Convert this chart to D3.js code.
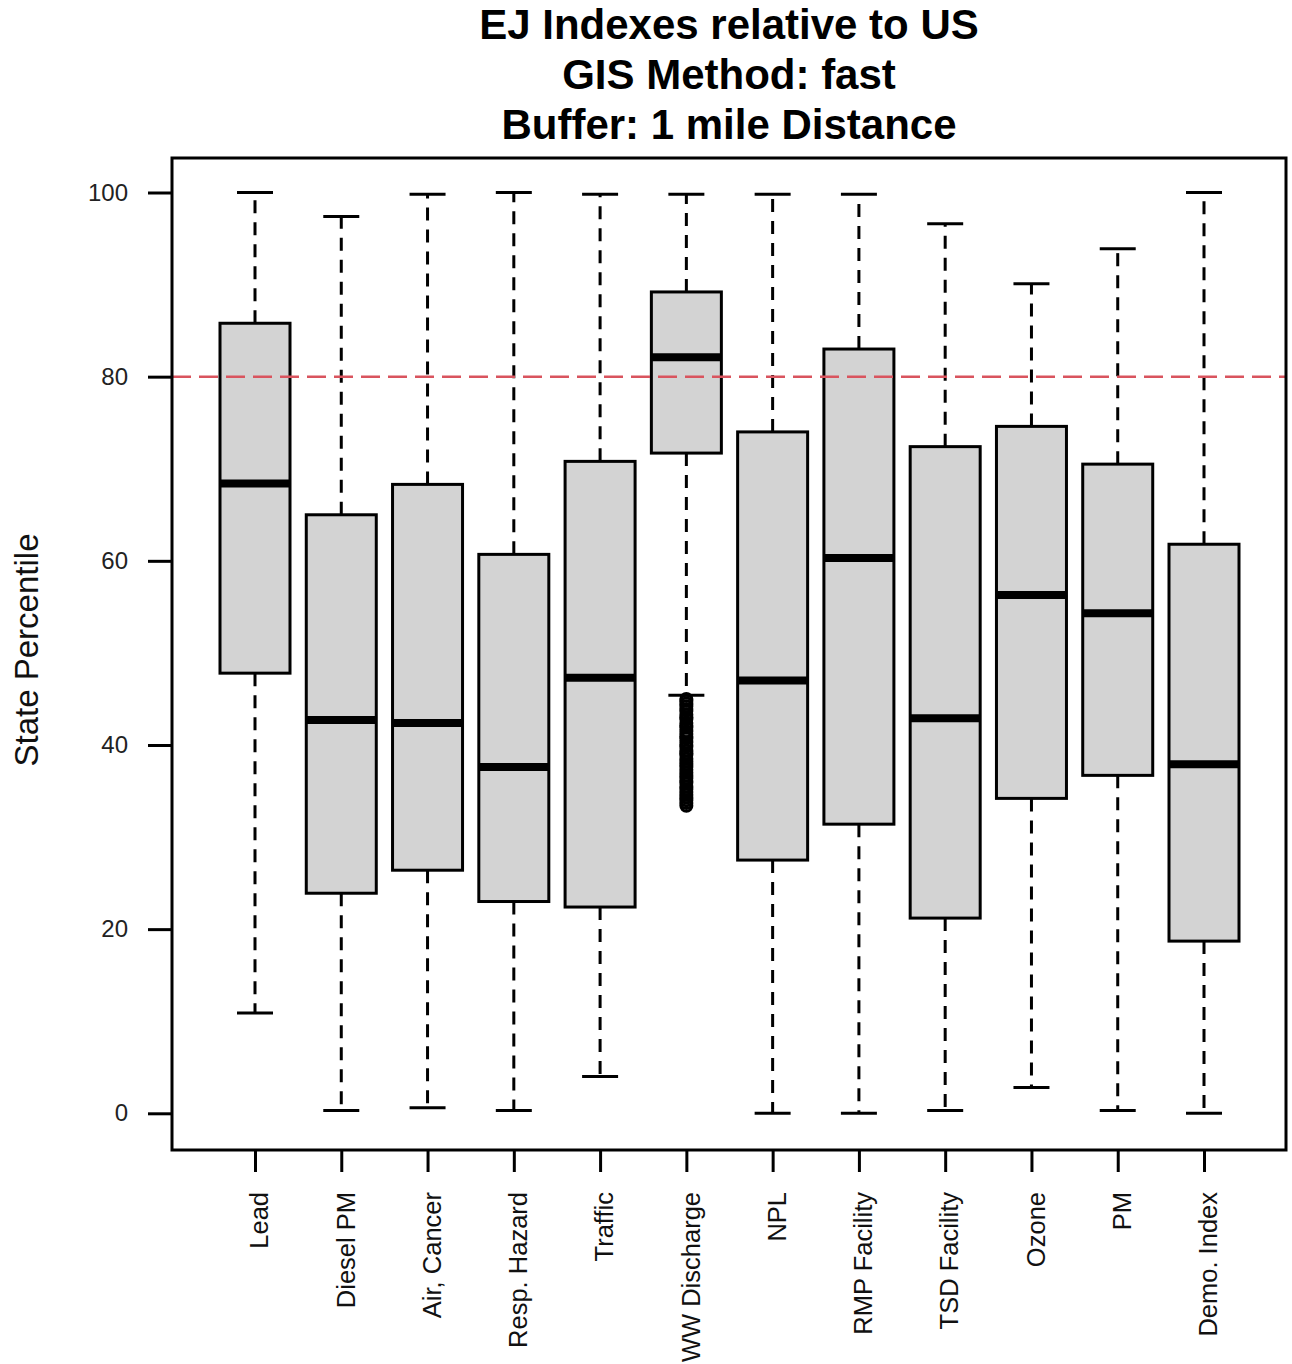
<!DOCTYPE html>
<html>
<head>
<meta charset="utf-8">
<script src="https://cdn.jsdelivr.net/npm/d3@7"></script>
<style>
  html, body { margin: 0; padding: 0; background: #fff; }
  svg { display: block; font-family: "Liberation Sans", Arial, sans-serif; }
</style>
</head>
<body>
<svg id="chart" width="1292" height="1364"></svg>
<script>
// ---- data ----
const titleLines = ["EJ Indexes relative to US", "GIS Method: fast", "Buffer: 1 mile Distance"];
const yLabel = "State Percentile";
const categories = ["Lead", "Diesel PM", "Air, Cancer", "Resp. Hazard", "Traffic", "WW Discharge",
                    "NPL", "RMP Facility", "TSD Facility", "Ozone", "PM", "Demo. Index"];
const whiskerLow  = [10.9, 0.3, 0.6, 0.3, 4.0, 45.4, 0.0, 0.0, 0.3, 2.8, 0.3, 0.0];
const q1          = [47.8, 23.9, 26.4, 23.0, 22.4, 71.7, 27.5, 31.4, 21.2, 34.2, 36.7, 18.7];
const medians     = [68.4, 42.7, 42.4, 37.6, 47.3, 82.1, 47.0, 60.3, 42.9, 56.3, 54.3, 37.9];
const q3          = [85.8, 65.0, 68.3, 60.7, 70.8, 89.2, 74.0, 83.0, 72.4, 74.6, 70.5, 61.8];
const whiskerHigh = [100.0, 97.4, 99.8, 100.0, 99.8, 99.8, 99.8, 99.8, 96.6, 90.1, 93.9, 100.0];
// outliers of WW Discharge (dense open circles forming a thick bar)
const wwOutliers = [45.0, 44.8, 44.5, 44.2, 43.9, 43.7, 43.3, 43.0, 42.8, 42.4, 42.1, 41.9, 41.5,
                    41.2, 40.9, 40.7, 40.3, 40.0, 39.8, 39.4, 39.1, 38.9, 38.5, 38.2, 37.9, 37.6,
                    37.3, 37.0, 36.7, 36.4, 36.1, 35.9, 35.5, 35.2, 34.9, 34.6, 34.3, 34.0, 33.7, 33.4];
const outlierCategory = "WW Discharge";
const yTicks = [0, 20, 40, 60, 80, 100];
const refLine = 80;

// ---- layout ----
const svg = d3.select("#chart");
const plot = { left: 172, right: 1286, top: 158, bottom: 1150 };

const y = d3.scaleLinear().domain([0, 100]).range([1113.3, 192.5]);
const x = d3.scalePoint().domain(categories).range([255, 1204]).padding(0);
const boxW = 70, capW = 36;

// title
svg.append("g").selectAll("text").data(titleLines).join("text")
  .attr("x", 729).attr("y", (d, i) => 39 + i * 50)
  .attr("text-anchor", "middle")
  .attr("font-size", 42).attr("font-weight", "bold").attr("fill", "#000")
  .text(d => d);

// boxes
const boxes = categories.map((c, i) => ({
  c, lo: whiskerLow[i], q1: q1[i], med: medians[i], q3: q3[i], hi: whiskerHigh[i]
}));

const g = svg.append("g");

// whiskers (dashed)
g.selectAll("line.wup").data(boxes).join("line").attr("class", "wup")
  .attr("x1", d => x(d.c)).attr("x2", d => x(d.c))
  .attr("y1", d => y(d.q3)).attr("y2", d => y(d.hi))
  .attr("stroke", "#000").attr("stroke-width", 3).attr("stroke-dasharray", "13,9");
g.selectAll("line.wlo").data(boxes).join("line").attr("class", "wlo")
  .attr("x1", d => x(d.c)).attr("x2", d => x(d.c))
  .attr("y1", d => y(d.q1)).attr("y2", d => y(d.lo))
  .attr("stroke", "#000").attr("stroke-width", 3).attr("stroke-dasharray", "13,9");
// caps
g.selectAll("line.chi").data(boxes).join("line").attr("class", "chi")
  .attr("x1", d => x(d.c) - capW / 2).attr("x2", d => x(d.c) + capW / 2)
  .attr("y1", d => y(d.hi)).attr("y2", d => y(d.hi))
  .attr("stroke", "#000").attr("stroke-width", 3);
g.selectAll("line.clo").data(boxes).join("line").attr("class", "clo")
  .attr("x1", d => x(d.c) - capW / 2).attr("x2", d => x(d.c) + capW / 2)
  .attr("y1", d => y(d.lo)).attr("y2", d => y(d.lo))
  .attr("stroke", "#000").attr("stroke-width", 3);
// box
g.selectAll("rect.box").data(boxes).join("rect").attr("class", "box")
  .attr("x", d => x(d.c) - boxW / 2).attr("width", boxW)
  .attr("y", d => y(d.q3)).attr("height", d => y(d.q1) - y(d.q3))
  .attr("fill", "#d3d3d3").attr("stroke", "#000").attr("stroke-width", 3);
// median
g.selectAll("line.med").data(boxes).join("line").attr("class", "med")
  .attr("x1", d => x(d.c) - boxW / 2).attr("x2", d => x(d.c) + boxW / 2)
  .attr("y1", d => y(d.med)).attr("y2", d => y(d.med))
  .attr("stroke", "#000").attr("stroke-width", 8);

// outliers
g.selectAll("circle.out").data(wwOutliers).join("circle").attr("class", "out")
  .attr("cx", x(outlierCategory)).attr("cy", d => y(d)).attr("r", 5.5)
  .attr("fill", "none").attr("stroke", "#000").attr("stroke-width", 3);

// reference line at 80
svg.append("line")
  .attr("x1", plot.left).attr("x2", plot.right)
  .attr("y1", y(refLine)).attr("y2", y(refLine))
  .attr("stroke", "#d9545e").attr("stroke-width", 2.5).attr("stroke-dasharray", "19,8");

// frame
svg.append("rect")
  .attr("x", plot.left).attr("y", plot.top)
  .attr("width", plot.right - plot.left).attr("height", plot.bottom - plot.top)
  .attr("fill", "none").attr("stroke", "#000").attr("stroke-width", 3);

// y axis
const yAxis = svg.append("g").attr("transform", `translate(${plot.left},0)`)
  .call(d3.axisLeft(y).tickValues(yTicks).tickSize(24).tickPadding(20).tickFormat(d3.format("d")));
yAxis.select(".domain").remove();
yAxis.selectAll(".tick line").attr("stroke", "#000").attr("stroke-width", 3);
yAxis.selectAll(".tick text").attr("font-size", 24).attr("fill", "#222")
  .attr("font-family", "Liberation Sans, Arial, sans-serif");

// x axis
const xAxis = svg.append("g").attr("transform", `translate(0,${plot.bottom})`)
  .call(d3.axisBottom(x).tickSize(22));
xAxis.select(".domain").remove();
xAxis.selectAll(".tick line").attr("stroke", "#000").attr("stroke-width", 3);
xAxis.selectAll(".tick text")
  .attr("transform", "rotate(-90)")
  .attr("text-anchor", "end")
  .attr("x", -42).attr("y", 0).attr("dy", "0.5em")
  .attr("font-size", 25.5).attr("fill", "#111")
  .attr("font-family", "Liberation Sans, Arial, sans-serif");

// y label
svg.append("text")
  .attr("transform", "translate(38,650) rotate(-90)")
  .attr("text-anchor", "middle")
  .attr("font-size", 33).attr("fill", "#111")
  .text(yLabel);
</script>
</body>
</html>
